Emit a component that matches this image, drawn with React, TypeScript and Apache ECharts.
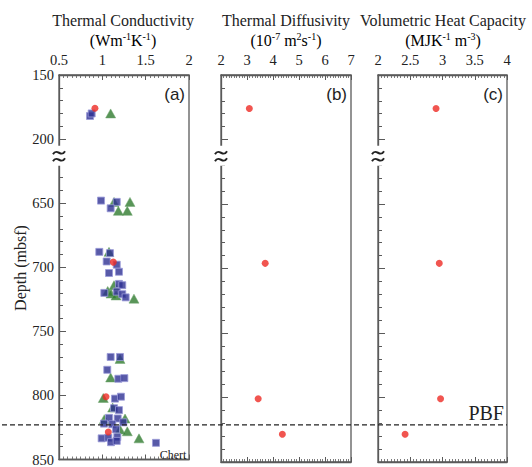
import React, { useEffect, useRef } from "react";
import * as echarts from "echarts";

// ---- data: [value, depth (mbsf)] ----
const condSquares: number[][] = [
  [0.858, 182], [0.877, 180], [0.985, 648], [1.166, 649], [1.096, 654],
  [0.965, 688], [1.088, 689], [1.05, 695.5], [1.166, 698], [1.077, 704.5],
  [1.192, 703.5], [1.192, 713], [1.23, 714], [1.023, 720], [1.166, 719],
  [1.23, 721], [1.269, 723.5], [1.096, 770], [1.204, 770], [1.057, 780],
  [1.185, 787], [1.254, 786.5], [1.146, 802.5], [1.215, 801], [1.135, 810],
  [1.192, 811.5], [1.077, 817.5], [1.177, 818], [1.019, 822], [1.115, 822.5],
  [1.242, 821], [1.158, 826.5], [0.992, 833.5], [1.069, 833], [1.173, 832.5],
  [1.1, 836.5], [1.166, 835.5], [1.619, 837],
];
const condTriangles: number[][] = [
  [1.096, 180], [1.135, 649], [1.319, 649], [1.185, 656], [1.288, 656],
  [1.077, 688], [1.135, 714], [1.062, 718.5], [1.1, 720.5], [1.158, 722],
  [1.365, 724.5], [1.204, 771.5], [1.096, 786], [1.011, 802], [1.119, 809.5],
  [1.023, 818.5], [1.262, 818], [1.204, 826.5], [1.288, 828], [1.423, 833.5],
];
const condCircles: number[][] = [[0.915, 176], [1.127, 696], [1.042, 801], [1.069, 828.5]];
const diffCircles: number[][] = [[3.09, 176], [3.7, 696], [3.43, 801], [4.36, 828.5]];
const heatCircles: number[][] = [[2.9, 176], [2.95, 696], [2.97, 801], [2.42, 828.5]];

const panelTitles = ["Thermal Conductivity", "Thermal Diffusivity", "Volumetric Heat Capacity"];
const panelLetters = ["(a)", "(b)", "(c)"];
const xRanges = [
  { min: 0.5, max: 2, interval: 0.5 },
  { min: 2, max: 7, interval: 1 },
  { min: 2, max: 4, interval: 0.5 },
];
const PBF_DEPTH = 823;
const BREAK_LOW = 200;
const BREAK_HIGH = 650;
const BREAK_GAP = 50;

const toAxis = (d: number) => (d <= BREAK_LOW ? d : d - (BREAK_HIGH - BREAK_LOW) + BREAK_GAP);
const fromAxis = (t: number) => (t <= BREAK_LOW ? t : t + (BREAK_HIGH - BREAK_LOW) - BREAK_GAP);

const SERIF = "Liberation Serif";
const SANS = "Liberation Sans";
const AXIS_COLOR = "#5a5a5a";
const TEXT = "#222222";

const grids = [
  { left: 59, top: 75, width: 130, height: 387 },
  { left: 221, top: 75, width: 130, height: 387 },
  { left: 378, top: 75, width: 129, height: 387 },
];

export default function App() {
  const ref = useRef<HTMLDivElement>(null);
  useEffect(() => {
    if (!ref.current) return;
    const chart = echarts.init(ref.current, null, { renderer: "svg" });

    const xAxes: any[] = [];
    const yAxes: any[] = [];
    grids.forEach((_, i) => {
      const r = xRanges[i];
      const base = {
        gridIndex: i,
        type: "value",
        min: r.min,
        max: r.max,
        interval: r.interval,
        splitLine: { show: false },
        axisLine: { show: true, lineStyle: { color: AXIS_COLOR, width: 1.3 } },
        axisTick: { show: true, inside: true, length: 5, lineStyle: { color: AXIS_COLOR, width: 1 } },
        minorTick: { show: true, splitNumber: 10, length: 3, lineStyle: { color: AXIS_COLOR, width: 0.8 } },
      };
      xAxes.push({
        ...base,
        position: "top",
        axisLabel: { show: true, fontFamily: SERIF, fontSize: 14.5, color: TEXT, margin: 8 },
      });
      xAxes.push({ ...base, position: "bottom", axisLabel: { show: false } });
      yAxes.push({
        gridIndex: i,
        type: "value",
        inverse: true,
        min: 150,
        max: 450,
        interval: 50,
        splitLine: { show: false },
        axisLine: { show: true, lineStyle: { color: AXIS_COLOR, width: 1.3 } },
        axisTick: { show: true, inside: true, length: 7, lineStyle: { color: AXIS_COLOR, width: 1 } },
        minorTick: { show: true, splitNumber: 5, length: 4, lineStyle: { color: AXIS_COLOR, width: 1 } },
        axisLabel: {
          show: i === 0,
          fontFamily: SERIF,
          fontSize: 14.5,
          color: TEXT,
          margin: 5,
          formatter: (v: number) => (v > BREAK_LOW && v < BREAK_LOW + BREAK_GAP ? "" : String(fromAxis(v))),
        },
      });
    });

    const mk = (arr: number[][]) => arr.map(([x, d]) => [x, toAxis(d)]);
    const redStyle = { color: "#ee2b24" };

    const series: any[] = [
      {
        type: "scatter", xAxisIndex: 0, yAxisIndex: 0, symbol: "triangle", symbolSize: [10, 9],
        itemStyle: { color: "#2f7a2e", borderColor: "#6aa36a", borderWidth: 0.6 }, data: mk(condTriangles),
      },
      {
        type: "scatter", xAxisIndex: 0, yAxisIndex: 0, symbol: "rect", symbolSize: 7,
        itemStyle: { color: "#2e3192", borderColor: "#9a9ad8", borderWidth: 1 }, data: mk(condSquares),
      },
      { type: "scatter", xAxisIndex: 0, yAxisIndex: 0, symbol: "circle", symbolSize: 7, itemStyle: redStyle, data: mk(condCircles) },
      { type: "scatter", xAxisIndex: 2, yAxisIndex: 1, symbol: "circle", symbolSize: 7, itemStyle: redStyle, data: mk(diffCircles) },
      { type: "scatter", xAxisIndex: 4, yAxisIndex: 2, symbol: "circle", symbolSize: 7, itemStyle: redStyle, data: mk(heatCircles) },
    ];

    const unitRich = {
      n: { fontFamily: SERIF, fontSize: 16, color: TEXT, lineHeight: 18 },
      s: { fontFamily: SERIF, fontSize: 10, color: TEXT, lineHeight: 18, verticalAlign: "top" },
    };
    const units = [
      "{n|(Wm}{s|-1}{n|K}{s|-1}{n|)}",
      "{n|(10}{s|-7}{n| m}{s|2}{n|s}{s|-1}{n|)}",
      "{n|(MJK}{s|-1}{n| m}{s|-3}{n|)}",
    ];
    const titleX = [123, 286, 443];

    chart.setOption({
      animation: false,
      grid: grids.map((g) => ({ ...g, show: true, borderColor: AXIS_COLOR, borderWidth: 1.3, backgroundColor: "transparent" })),
      xAxis: xAxes,
      yAxis: yAxes,
      series,
    });

    const yPix = (d: number) => chart.convertToPixel({ yAxisIndex: 0 }, toAxis(d)) as number;
    const yDash = yPix(PBF_DEPTH);
    const yBreak = chart.convertToPixel({ yAxisIndex: 0 }, BREAK_LOW + 13) as number;

    const graphic: any[] = [];
    grids.forEach((g, i) => {
      graphic.push({
        type: "text", x: titleX[i], y: 20, z: 100,
        style: { text: panelTitles[i], fontFamily: SERIF, fontSize: 16, fill: TEXT, align: "center", verticalAlign: "middle", textAlign: "center", textVerticalAlign: "middle" },
      });
      graphic.push({
        type: "text", x: titleX[i], y: 40, z: 100,
        style: { text: units[i], rich: unitRich, align: "center", verticalAlign: "middle", textAlign: "center", textVerticalAlign: "middle" },
      });
      graphic.push({
        type: "text", x: g.left + g.width - 4, y: 94, z: 100,
        style: { text: panelLetters[i], fontFamily: SANS, fontSize: 17, fill: TEXT, align: "right", verticalAlign: "middle", textAlign: "right", textVerticalAlign: "middle" },
      });
      // axis break
      const ax = g.left;
      graphic.push({ type: "rect", z: 100, shape: { x: ax - 3, y: yBreak - 10, width: 12, height: 20 }, style: { fill: "#ffffff" } });
      [-3.5, 3.5].forEach((dy) => {
        graphic.push({
          type: "bezierCurve", z: 101,
          shape: { x1: ax - 6, y1: yBreak + dy + 2, x2: ax + 6, y2: yBreak + dy - 1, cpx1: ax - 2, cpy1: yBreak + dy - 5, cpx2: ax + 2, cpy2: yBreak + dy + 6 },
          style: { stroke: "#222", lineWidth: 2, fill: null },
        });
      });
    });
    graphic.push({
      type: "text", x: 20, y: 268, rotation: Math.PI / 2, z: 100,
      style: { text: "Depth (mbsf)", fontFamily: SERIF, fontSize: 16, fill: TEXT, align: "center", verticalAlign: "middle", textAlign: "center", textVerticalAlign: "middle" },
    });
    graphic.push({
      type: "line", z: 90,
      shape: { x1: 2, y1: yDash, x2: grids[2].left + grids[2].width, y2: yDash },
      style: { stroke: "#222", lineWidth: 1.2, lineDash: [5, 3] },
    });
    graphic.push({
      type: "text", x: grids[2].left + grids[2].width - 3, y: yDash - 2, z: 100,
      style: { text: "PBF", fontFamily: SERIF, fontSize: 20, fill: TEXT, align: "right", verticalAlign: "bottom", textAlign: "right", textVerticalAlign: "bottom" },
    });
    graphic.push({
      type: "text", x: 173, y: 455, z: 100,
      style: { text: "Chert", fontFamily: SERIF, fontSize: 12, fill: TEXT, align: "center", verticalAlign: "middle", textAlign: "center", textVerticalAlign: "middle" },
    });

    chart.setOption({ graphic });

    return () => chart.dispose();
  }, []);

  return <div ref={ref} style={{ position: "absolute", left: 0, top: 0, width: 532, height: 467 }} />;
}
